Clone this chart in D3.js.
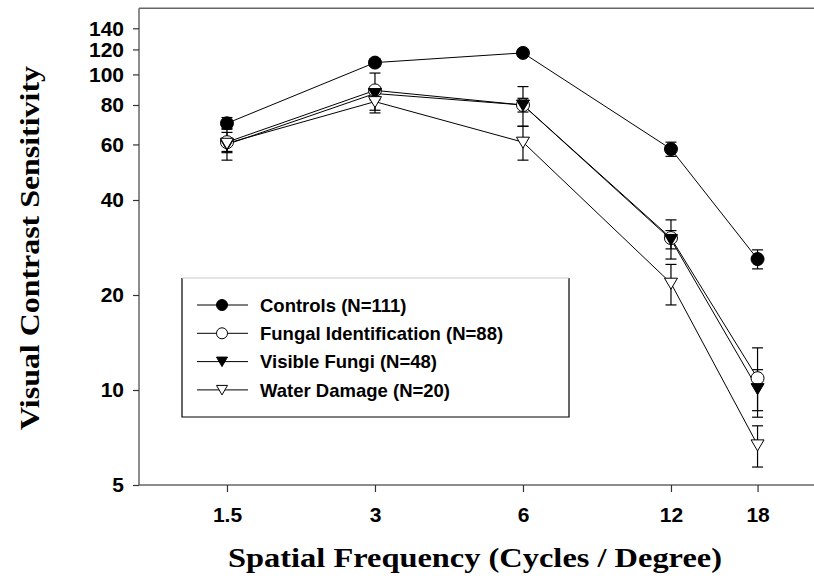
<!DOCTYPE html>
<html>
<head>
<meta charset="utf-8">
<script src="https://cdn.jsdelivr.net/npm/d3@7"></script>
<style>
    body { margin: 0; background: white; }
    svg { display: block; }
</style>
</head>
<body>
<div id="chart"></div>
<script>
// Chart values
const frequencies = [1.5, 3, 6, 12, 18];
const xTicks = [1.5, 3, 6, 12, 18];
const yTicks = [5, 10, 20, 40, 60, 80, 100, 120, 140];

const seriesNames = ["Controls (N=111)", "Fungal Identification (N=88)", "Visible Fungi (N=48)", "Water Damage (N=20)"];
const controls = [70, 109, 117, 58, 26];
const controlsErr = [3, 3, 3, 3, 1.8];
const fungalId = [61, 89, 80, 30.3, 10.9];
const fungalIdErr = [4.5, 12, 11.5, 4.3, 2.7];
const visibleFungi = [60, 87, 80, 30, 10.1];
const visibleFungiErr = [3, 4, 4, 2, 1.5];
const waterDamage = [60.5, 82, 61, 21.8, 6.7];
const waterDamageErr = [7, 6.5, 7.5, 3.2, 1];

const width = 814, height = 581;
const left = 139, bottom = 485;

let svg = d3.select("#chart").append("svg")
    .attr("width", width)
    .attr("height", height);

// Log scales on both axes
let x = d3.scaleLog()
    .domain([1, 24])
    .range([140.4, 140.4 + 148 * Math.log2(24)]);

let y = d3.scaleLog()
    .domain([5, 162])
    .range([bottom, bottom - 95 * Math.log2(162 / 5)]);

// Frame: top line, left axis, bottom axis (no right edge)
svg.append("line")
    .attr("x1", left).attr("x2", width)
    .attr("y1", y(162)).attr("y2", y(162))
    .attr("stroke", "#666").attr("stroke-width", 1.5);

let yAxis = svg.append("g")
    .attr("transform", "translate(" + left + ",0)")
    .call(d3.axisLeft(y).tickValues(yTicks).tickFormat(d3.format("d")).tickSize(6).tickPadding(9));

let xAxis = svg.append("g")
    .attr("transform", "translate(0," + bottom + ")")
    .call(d3.axisBottom(x).tickValues(xTicks).tickFormat(d => d).tickSize(7).tickPadding(15));

[xAxis, yAxis].forEach(function(ax) {
    ax.select(".domain").attr("stroke", "#666").attr("stroke-width", 1.5);
    ax.selectAll(".tick line").attr("stroke", "#333").attr("stroke-width", 1.2);
    ax.selectAll(".tick text")
        .attr("fill", "black")
        .style("font-family", "'Liberation Sans', Arial, sans-serif")
        .style("font-weight", "bold")
        .style("font-size", "21px");
});
// Make the axis lines span the whole frame
xAxis.select(".domain").attr("d", "M" + left + ",0H" + width);
yAxis.select(".domain").attr("d", "M0," + y(162) + "V" + bottom);

// Marker shapes
const triDown = "M-6.5,-5L6.5,-5L0,6Z";
const triDownSmall = "M-5.5,-4.5L5.5,-4.5L0,5Z";

let series = [
    {name: seriesNames[0], values: controls, errors: controlsErr, shape: "circle", fill: "black"},
    {name: seriesNames[1], values: fungalId, errors: fungalIdErr, shape: "circle", fill: "white"},
    {name: seriesNames[2], values: visibleFungi, errors: visibleFungiErr, shape: "tri", fill: "black"},
    {name: seriesNames[3], values: waterDamage, errors: waterDamageErr, shape: "tri", fill: "white"}
];

let line = d3.line()
    .x(d => x(d.f))
    .y(d => y(d.v));

// Error bars first, then lines, then markers
series.forEach(function(s) {
    let pts = frequencies.map((f, i) => ({f: f, v: s.values[i], e: s.errors[i]}));
    let eb = svg.append("g").selectAll("g")
        .data(pts)
        .join("g")
            .attr("stroke", "black")
            .attr("stroke-width", 1.2);
    eb.append("line")
        .attr("x1", d => x(d.f)).attr("x2", d => x(d.f))
        .attr("y1", d => y(d.v + d.e)).attr("y2", d => y(d.v - d.e));
    eb.append("line")
        .attr("x1", d => x(d.f) - 5.5).attr("x2", d => x(d.f) + 5.5)
        .attr("y1", d => y(d.v + d.e)).attr("y2", d => y(d.v + d.e));
    eb.append("line")
        .attr("x1", d => x(d.f) - 5.5).attr("x2", d => x(d.f) + 5.5)
        .attr("y1", d => y(d.v - d.e)).attr("y2", d => y(d.v - d.e));
    s.pts = pts;
});

series.forEach(function(s) {
    svg.append("path")
        .datum(s.pts)
        .attr("d", line)
        .attr("fill", "none")
        .attr("stroke", "black")
        .attr("stroke-width", 1);
});

series.forEach(function(s) {
    let g = svg.append("g");
    if (s.shape == "circle") {
        g.selectAll("circle")
            .data(s.pts)
            .join("circle")
                .attr("cx", d => x(d.f))
                .attr("cy", d => y(d.v))
                .attr("r", 6.5)
                .attr("fill", s.fill)
                .attr("stroke", "black")
                .attr("stroke-width", 1);
    } else {
        g.selectAll("path")
            .data(s.pts)
            .join("path")
                .attr("transform", d => "translate(" + x(d.f) + "," + y(d.v) + ")")
                .attr("d", triDown)
                .attr("fill", s.fill)
                .attr("stroke", "black")
                .attr("stroke-width", 1);
    }
});

// Legend box
let legend = svg.append("g");
legend.append("rect")
    .attr("x", 182).attr("y", 278)
    .attr("width", 387).attr("height", 139)
    .attr("fill", "white").attr("stroke", "none");
legend.append("path")
    .attr("d", "M182,278V417H569V278")
    .attr("fill", "none").attr("stroke", "black").attr("stroke-width", 1.2);
legend.append("line")
    .attr("x1", 182).attr("x2", 569).attr("y1", 278).attr("y2", 278)
    .attr("stroke", "#ccc").attr("stroke-width", 1.2);

let rows = legend.selectAll("g.row")
    .data(series)
    .join("g")
        .attr("class", "row")
        .attr("transform", (d, i) => "translate(0," + (305 + i * 28.3) + ")");

rows.append("line")
    .attr("x1", 197).attr("x2", 248)
    .attr("stroke", "black").attr("stroke-width", 1);

rows.each(function(s) {
    let r = d3.select(this);
    if (s.shape == "circle") {
        r.append("circle")
            .attr("cx", 222).attr("cy", 0).attr("r", 5.5)
            .attr("fill", s.fill).attr("stroke", "black");
    } else {
        r.append("path")
            .attr("transform", "translate(222,0)")
            .attr("d", triDownSmall)
            .attr("fill", s.fill).attr("stroke", "black");
    }
});

rows.append("text")
    .attr("x", 260)
    .attr("dy", "0.36em")
    .style("font-family", "'Liberation Sans', Arial, sans-serif")
    .style("font-weight", "bold")
    .style("font-size", "18.5px")
    .text(d => d.name);

// Axis titles
svg.append("text")
    .attr("x", 475).attr("y", 567)
    .attr("text-anchor", "middle")
    .attr("textLength", 494)
    .attr("lengthAdjust", "spacingAndGlyphs")
    .style("font-family", "'Liberation Serif', 'Times New Roman', serif")
    .style("font-weight", "bold")
    .style("font-size", "28px")
    .text("Spatial Frequency (Cycles / Degree)");

svg.append("text")
    .attr("transform", "translate(39,248) rotate(-90)")
    .attr("text-anchor", "middle")
    .attr("textLength", 364)
    .attr("lengthAdjust", "spacingAndGlyphs")
    .style("font-family", "'Liberation Serif', 'Times New Roman', serif")
    .style("font-weight", "bold")
    .style("font-size", "28px")
    .text("Visual Contrast Sensitivity");
</script>
</body>
</html>
